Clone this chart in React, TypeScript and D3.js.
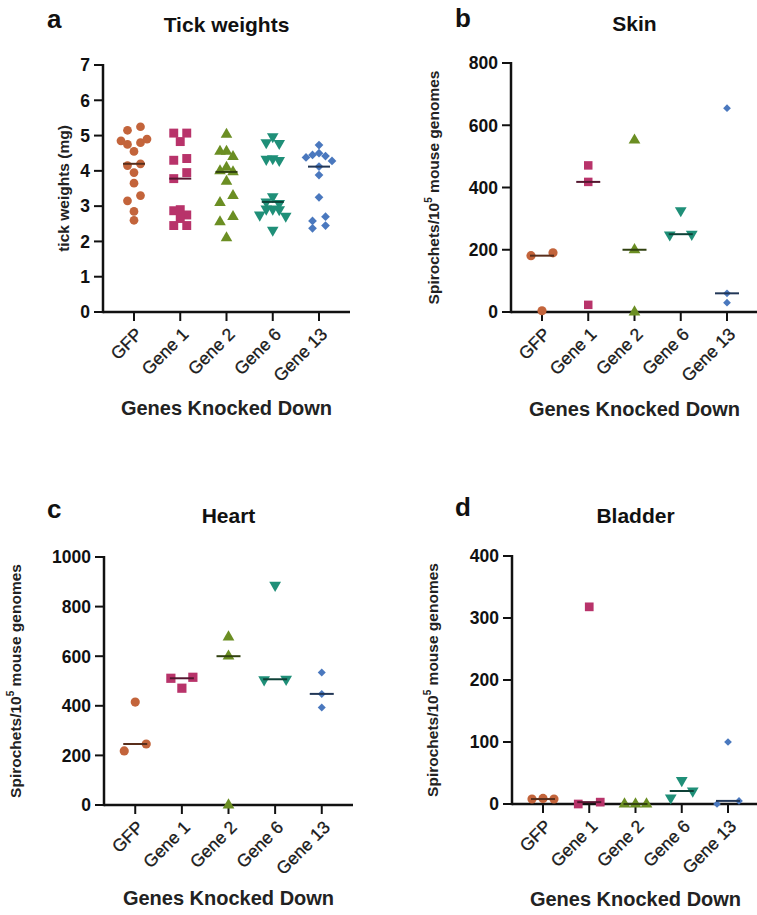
import React from "react";
import * as d3 from "d3";

const GENES = ["GFP", "Gene 1", "Gene 2", "Gene 6", "Gene 13"];
const COLORS = ["#C3643B", "#B8336A", "#6B8E23", "#1F8F78", "#4A78BE"];
const SHAPES = ["circle", "square", "triangle", "triangleDown", "diamond"];

// Panel a: tick weights (mg)
const tickGFP = [5.25, 5.15, 4.9, 4.85, 4.8, 4.75, 4.55, 4.2, 4.15, 3.95, 3.65, 3.3, 3.15, 2.85, 2.6];
const tickGene1 = [5.07, 5.07, 4.83, 4.35, 4.3, 3.95, 3.78, 2.9, 2.87, 2.75, 2.65, 2.45, 2.45];
const tickGene2 = [5.03, 4.55, 4.55, 4.4, 4.1, 4.0, 3.97, 3.7, 3.3, 3.1, 2.7, 2.55, 2.1];
const tickGene6 = [4.97, 4.8, 4.78, 4.35, 4.3, 4.33, 3.27, 3.12, 3.08, 2.92, 2.9, 2.92, 2.72, 2.75, 2.32];
const tickGene13 = [4.73, 4.5, 4.45, 4.42, 4.38, 4.28, 4.12, 3.88, 3.25, 2.7, 2.58, 2.45, 2.37];
const tickTicks = [0, 1, 2, 3, 4, 5, 6, 7];

// Panel b: skin
const skinGFP = [190, 181, 4];
const skinGene1 = [471, 418, 23];
const skinGene2 = [552, 200, 0];
const skinGene6 = [326, 250, 248];
const skinGene13 = [655, 60, 30];
const skinTicks = [0, 200, 400, 600, 800];

// Panel c: heart
const heartGFP = [415, 218, 246];
const heartGene1 = [515, 511, 471];
const heartGene2 = [677, 600, 0];
const heartGene6 = [886, 505, 507];
const heartGene13 = [534, 448, 393];
const heartTicks = [0, 200, 400, 600, 800, 1000];

// Panel d: bladder
const bladderGFP = [8, 9, 8];
const bladderGene1 = [318, 0, 3];
const bladderGene2 = [0, 0, 0];
const bladderGene6 = [38, 10, 21];
const bladderGene13 = [100, 0, 5];
const bladderTicks = [0, 100, 200, 300, 400];

const FONT = "'Liberation Sans', Arial, sans-serif";

type Panel = {
  letter: string;
  title: string;
  yTitle: string;
  sup: boolean;
  groups: number[][];
  ticks: number[];
  x0: number;
  x1: number;
  yTop: number;
  yBot: number;
  letterX: number;
  letterY: number;
  titleY: number;
  yTitleX: number;
  xTitleY: number;
  step: number;
  thresh: number;
  sizes: number[];
};

const panels: Panel[] = [
  {
    letter: "a", title: "Tick weights", yTitle: "tick weights (mg)", sup: false,
    groups: [tickGFP, tickGene1, tickGene2, tickGene6, tickGene13], ticks: tickTicks,
    x0: 103, x1: 350, yTop: 65, yBot: 312, letterX: 47, letterY: 28, titleY: 32,
    yTitleX: 64, xTitleY: 415, step: 6.5, thresh: 8, sizes: [60, 80, 58, 58, 38],
  },
  {
    letter: "b", title: "Skin", yTitle: "Spirochets/10", sup: true,
    groups: [skinGFP, skinGene1, skinGene2, skinGene6, skinGene13], ticks: skinTicks,
    x0: 511, x1: 758, yTop: 63, yBot: 312, letterX: 455, letterY: 27, titleY: 31,
    yTitleX: 434, xTitleY: 416, step: 11, thresh: 9, sizes: [66, 72, 60, 60, 30],
  },
  {
    letter: "c", title: "Heart", yTitle: "Spirochets/10", sup: true,
    groups: [heartGFP, heartGene1, heartGene2, heartGene6, heartGene13], ticks: heartTicks,
    x0: 104, x1: 353, yTop: 557, yBot: 805, letterX: 47, letterY: 518, titleY: 523,
    yTitleX: 16, xTitleY: 905, step: 11, thresh: 9, sizes: [66, 85, 60, 60, 32],
  },
  {
    letter: "d", title: "Bladder", yTitle: "Spirochets/10", sup: true,
    groups: [bladderGFP, bladderGene1, bladderGene2, bladderGene6, bladderGene13], ticks: bladderTicks,
    x0: 512, x1: 759, yTop: 556, yBot: 804, letterX: 455, letterY: 516, titleY: 523,
    yTitleX: 433, xTitleY: 906, step: 11, thresh: 9, sizes: [66, 76, 60, 60, 30],
  },
];

function symbolPath(shape: string, size: number): { d: string; rot: number } {
  const sym = d3.symbol();
  if (shape === "circle") return { d: sym.type(d3.symbolCircle).size(size)() as string, rot: 0 };
  if (shape === "square") return { d: sym.type(d3.symbolSquare).size(size)() as string, rot: 0 };
  if (shape === "triangle") return { d: sym.type(d3.symbolTriangle).size(size)() as string, rot: 0 };
  if (shape === "triangleDown") return { d: sym.type(d3.symbolTriangle).size(size)() as string, rot: 180 };
  return { d: sym.type(d3.symbolSquare).size(size)() as string, rot: 45 };
}

// Row-based scatter layout (Prism-like): points close in y share a row and are spread sideways.
function layoutRows(values: number[], y: (v: number) => number, thresh: number, step: number) {
  const sorted = values.slice().sort((a, b) => b - a);
  const rows: number[][] = [];
  for (const v of sorted) {
    const row = rows[rows.length - 1];
    if (row && Math.abs(y(v) - y(row[0])) < thresh) row.push(v);
    else rows.push([v]);
  }
  const out: { v: number; dx: number }[] = [];
  for (const row of rows) {
    const n = row.length;
    const slots: number[] = [];
    if (n % 2 === 1) {
      slots.push(0);
      for (let k = 1; slots.length < n; k++) { slots.push(-k); if (slots.length < n) slots.push(k); }
      const vals = row.slice().sort((a, b) => b - a);
      vals.forEach((v, i) => out.push({ v, dx: slots[i] * step }));
    } else {
      for (let k = 1; slots.length < n; k++) { slots.push(-k); slots.push(k); }
      const vals = row.slice().sort((a, b) => a - b);
      vals.forEach((v, i) => out.push({ v, dx: slots[i] * step }));
    }
  }
  return out;
}

function PanelView({ p }: { p: Panel }) {
  const yScale = d3.scaleLinear().domain([p.ticks[0], p.ticks[p.ticks.length - 1]]).range([p.yBot, p.yTop]);
  const xScale = d3.scalePoint<string>().domain(GENES).range([p.x0, p.x1]).padding(0.67);
  const xs = GENES.map((g) => xScale(g) as number);
  const midX = (xs[0] + xs[xs.length - 1]) / 2;
  const yMid = (p.yTop + p.yBot) / 2;
  return (
    <g>
      <text x={p.letterX} y={p.letterY} fontSize={26} fontWeight="bold" fill="#111">{p.letter}</text>
      <text x={midX} y={p.titleY} fontSize={21} fontWeight="bold" textAnchor="middle" fill="#111">{p.title}</text>
      {/* y axis */}
      <line x1={p.x0} x2={p.x0} y1={p.yTop - 1} y2={p.yBot + 1.2} stroke="#111" strokeWidth={2.5} />
      {p.ticks.map((t) => (
        <g key={t}>
          <line x1={p.x0 - 9} x2={p.x0} y1={yScale(t)} y2={yScale(t)} stroke="#111" strokeWidth={2} />
          <text x={p.x0 - 13} y={yScale(t)} dy="0.36em" fontSize={17.5} fontWeight="bold" textAnchor="end" fill="#111">{t}</text>
        </g>
      ))}
      {/* x axis */}
      <line x1={p.x0} x2={p.x1} y1={p.yBot} y2={p.yBot} stroke="#111" strokeWidth={2.5} />
      {GENES.map((g, i) => (
        <g key={g}>
          <line x1={xs[i]} x2={xs[i]} y1={p.yBot} y2={p.yBot + 9} stroke="#111" strokeWidth={2} />
          <text transform={`translate(${xs[i] + 5},${p.yBot + 19}) rotate(-45)`} fontSize={17.5} textAnchor="end" dy="0.35em" fill="#1a1a1a" stroke="#1a1a1a" strokeWidth={0.3}>{g}</text>
        </g>
      ))}
      <text x={midX} y={p.xTitleY} fontSize={20} fontWeight="bold" textAnchor="middle" fill="#222">Genes Knocked Down</text>
      <text transform={`translate(${p.yTitleX},${yMid}) rotate(-90)`} fontSize={15.5} fontWeight="bold" textAnchor="middle" dy="0.35em" fill="#222">
        {p.yTitle}
        {p.sup ? <tspan fontSize={10} dy="-0.7em">5</tspan> : null}
        {p.sup ? <tspan dy="0.45em"> mouse genomes</tspan> : null}
      </text>
      {/* points */}
      {p.groups.map((vals, gi) => {
        const sp = symbolPath(SHAPES[gi], p.sizes[gi]);
        const pts = layoutRows(vals, yScale, p.thresh, p.step);
        return (
          <g key={gi}>
            {pts.map((pt, k) => (
              <path key={k} d={sp.d} fill={COLORS[gi]}
                transform={`translate(${xs[gi] + pt.dx},${yScale(pt.v)}) rotate(${sp.rot})`} />
            ))}
          </g>
        );
      })}
      {/* medians */}
      {p.groups.map((vals, gi) => {
        const m = d3.median(vals) as number;
        const c = d3.color(COLORS[gi])!.darker(2.2).formatHex();
        const half = p.letter === "a" ? 11 : 12;
        return <line key={"m" + gi} x1={xs[gi] - half} x2={xs[gi] + half} y1={yScale(m)} y2={yScale(m)} stroke={c} strokeWidth={2} />;
      })}
    </g>
  );
}

export default function App() {
  return (
    <svg width={757} height={915} style={{ position: "absolute", left: 0, top: 0, background: "#fff" }} fontFamily={FONT}>
      <rect width={757} height={915} fill="#fff" />
      {panels.map((p) => <PanelView key={p.letter} p={p} />)}
    </svg>
  );
}
